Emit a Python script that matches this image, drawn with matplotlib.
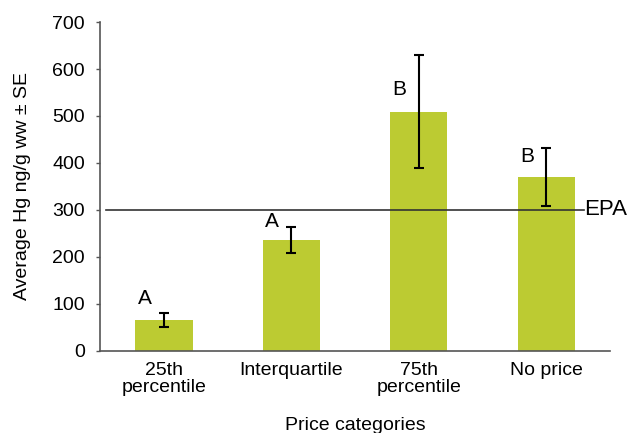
import matplotlib
matplotlib.use("Agg")
import matplotlib.pyplot as plt

# data
categories = ["25th\npercentile", "Interquartile", "75th\npercentile", "No price"]
mean_hg = [66, 236, 509, 370]
se_hg = [15, 28, 120, 61]
letters = ["A", "A", "B", "B"]
letter_y = [90, 256, 536, 393]
epa_level = 300

plt.rcParams["font.family"] = ["Liberation Sans", "DejaVu Sans"]

fig = plt.figure(figsize=(6.34, 4.33), dpi=100)
ax = fig.add_axes([0.158, 0.19, 0.804, 0.759])

x = list(range(len(categories)))
ax.bar(x, mean_hg, width=0.45, color="#bccb32", zorder=2)
ax.errorbar(x, mean_hg, yerr=se_hg, fmt="none", ecolor="black",
            elinewidth=1.5, capsize=3.5, capthick=1.5, zorder=3)

# EPA reference line
ax.plot([-0.455, 3.3], [epa_level, epa_level], color="#333333", lw=1.2, zorder=4)
ax.text(3.3, epa_level, "EPA", fontsize=16, va="center", ha="left")

# significance letters
for i in x:
    ax.text(i - 0.15, letter_y[i], letters[i], fontsize=15, ha="center", va="bottom")

ax.set_xlim(-0.5, 3.5)
ax.set_ylim(0, 700)
ax.set_yticks(range(0, 701, 100))
ax.set_xticks(x)
ax.set_xticklabels(categories, fontsize=14, linespacing=1.05)
ax.tick_params(axis="y", labelsize=14, length=3, width=1, color="#555555", pad=8)
ax.tick_params(axis="x", length=0, pad=8)

for s in ["top", "right"]:
    ax.spines[s].set_visible(False)
for s in ["left", "bottom"]:
    ax.spines[s].set_color("#555555")
    ax.spines[s].set_linewidth(1.2)

ax.set_ylabel("Average Hg ng/g ww \u00b1 SE", fontsize=14, labelpad=15)
ax.set_xlabel("Price categories", fontsize=14, labelpad=15)

plt.savefig("out.png", dpi=100)
